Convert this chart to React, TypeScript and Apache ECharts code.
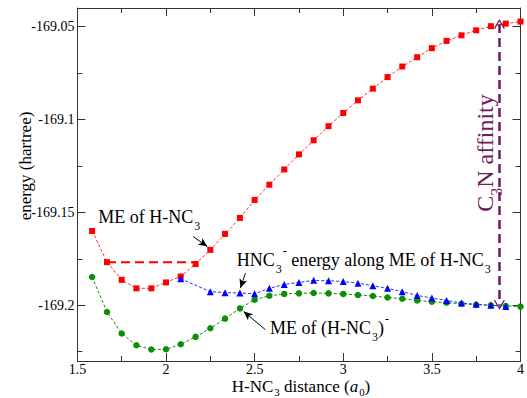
import React, { useEffect, useRef } from 'react';
import * as echarts from 'echarts';

// H-NC3 distance (bohr)
const distances = [
  1.583, 1.667, 1.75, 1.833, 1.917, 2.0, 2.083, 2.167, 2.25, 2.333,
  2.417, 2.5, 2.583, 2.667, 2.75, 2.833, 2.917, 3.0, 3.083, 3.167,
  3.25, 3.333, 3.417, 3.5, 3.583, 3.667, 3.75, 3.833, 3.917, 4.0,
];
// ME of H-NC3 (neutral), red squares
const neutralME = [
  -169.160, -169.1768, -169.1863, -169.1909, -169.1909, -169.1877, -169.1845, -169.1778, -169.1702, -169.1616,
  -169.1530, -169.1433, -169.1351, -169.1269, -169.1188, -169.1112, -169.1036, -169.0965, -169.0897, -169.0834,
  -169.0772, -169.0715, -169.0665, -169.0616, -169.0577, -169.0547, -169.0520, -169.0498, -169.0484, -169.0473,
];
// ME of (H-NC3)^- (anion), green circles
const anionME = [
  -169.1848, -169.2036, -169.2152, -169.2215, -169.2238, -169.2237, -169.2210, -169.2170, -169.2124, -169.2072,
  -169.2017, -169.1970, -169.1949, -169.1939, -169.1936, -169.1934, -169.1936, -169.1939, -169.1945, -169.1950,
  -169.1958, -169.1965, -169.1974, -169.1981, -169.1986, -169.1992, -169.1997, -169.2000, -169.2004, -169.2007,
];
// HNC3^- energy along ME of H-NC3, blue triangles (null = no point)
const anionAlongNeutral = [
  null, null, null, null, null, null, -169.1857, null, -169.1927, -169.1932,
  -169.1934, -169.1938, -169.1909, -169.1888, -169.1877, -169.1866, -169.1868, -169.1872, -169.1881, -169.1895,
  -169.1909, -169.1927, -169.1947, -169.1961, -169.1974, -169.1988, -169.1995, -169.2000, -169.2006, null,
];
// thick red dashed plateau
const plateauX = [1.667, 2.167];
const plateauY = -169.1768;
// pointer arrows [from, to]
const pointerArrows = [
  [[2.153, -169.1630], [2.233, -169.1684]],
  [[2.448, -169.1827], [2.420, -169.1907]],
  [[2.560, -169.2131], [2.438, -169.2033]],
];
// C3N affinity double arrow
const affinityArrow = [[3.881, -169.0486], [3.881, -169.1997]];

const xTicks = { min: 1.5, max: 4, interval: 0.5 };
const yRange = { min: -169.23, max: -169.04 };
const yMajor = [-169.2, -169.15, -169.1, -169.05];
const yMinor = [-169.225, -169.175, -169.125, -169.075];

const SERIF = '"Liberation Serif", "Times New Roman", serif';
const FRAME = '#333';
const PURPLE = '#6e1d5c';

const pairs = (ys: (number | null)[]) =>
  distances.map((x, i) => [x, ys[i]]).filter((p) => p[1] !== null);

const rich = (fs: number, lh: number, sfs: number) => ({
  n: { fontSize: fs, fontFamily: SERIF, lineHeight: lh, fill: '#000', verticalAlign: 'middle' },
  i: { fontSize: fs, fontFamily: SERIF, fontStyle: 'italic', lineHeight: lh, fill: '#000', verticalAlign: 'middle' },
  sub: { fontSize: sfs, fontFamily: SERIF, lineHeight: sfs, fill: '#000', verticalAlign: 'bottom', padding: [0, 0, 0, 1] },
  sup: { fontSize: sfs, fontFamily: SERIF, lineHeight: sfs, fill: '#000', verticalAlign: 'top', padding: [0, 0, 0, 1] },
});

function richText(x: number, y: number, text: string, fs = 18, lh = 30, sfs = 12, align = 'left') {
  return {
    type: 'text',
    x,
    y,
    silent: true,
    style: {
      text,
      rich: rich(fs, lh, sfs),
      fontFamily: SERIF,
      fontSize: fs,
      fill: '#000',
      align,
      textAlign: align,
      verticalAlign: 'top',
      textVerticalAlign: 'top',
    },
  };
}

const yAxisBase = (position: string) => ({
  type: 'value',
  position,
  min: yRange.min,
  max: yRange.max,
  splitLine: { show: false },
});

export default function App() {
  const ref = useRef<HTMLDivElement>(null);
  useEffect(() => {
    const chart = echarts.init(ref.current!, null, { renderer: 'svg' });
    const xAxisBase = (position: string, labels: boolean) => ({
      type: 'value',
      position,
      min: xTicks.min,
      max: xTicks.max,
      interval: xTicks.interval,
      axisLine: { show: true, lineStyle: { color: FRAME, width: 1 } },
      axisTick: { show: true, inside: true, length: 8, lineStyle: { color: FRAME } },
      minorTick: { show: true, splitNumber: 2, length: 5, lineStyle: { color: FRAME } },
      axisLabel: {
        show: labels,
        fontFamily: SERIF,
        fontSize: 14,
        color: '#000',
        margin: 1.5,
      },
      splitLine: { show: false },
      minorSplitLine: { show: false },
    });
    const chevron = 'path://M0,0 L6,10 L4.8,10.8 L0,2.6 L-4.8,10.8 L-6,10 Z';
    const option: any = {
      animation: false,
      backgroundColor: '#fff',
      textStyle: { fontFamily: SERIF },
      grid: { left: 77.4, right: 3.5, top: 8, bottom: 37 },
      xAxis: [xAxisBase('bottom', true), xAxisBase('top', false)],
      yAxis: [
        {
          ...yAxisBase('left'),
          axisLine: { show: true, lineStyle: { color: FRAME, width: 1 } },
          axisTick: { show: true, inside: true, length: 8, customValues: yMajor, lineStyle: { color: FRAME } },
          axisLabel: {
            show: true,
            customValues: yMajor,
            fontFamily: SERIF,
            fontSize: 14,
            color: '#000',
            margin: 3,
            formatter: (v: number) => String(v),
          },
        },
        {
          ...yAxisBase('left'),
          axisLine: { show: false },
          axisTick: { show: true, inside: true, length: 5, customValues: yMinor, lineStyle: { color: FRAME } },
          axisLabel: { show: false },
        },
        {
          ...yAxisBase('right'),
          axisLine: { show: true, lineStyle: { color: FRAME, width: 1 } },
          axisTick: { show: true, inside: true, length: 8, customValues: yMajor, lineStyle: { color: FRAME } },
          axisLabel: { show: false },
        },
        {
          ...yAxisBase('right'),
          axisLine: { show: false },
          axisTick: { show: true, inside: true, length: 5, customValues: yMinor, lineStyle: { color: FRAME } },
          axisLabel: { show: false },
        },
      ],
      series: [
        {
          type: 'line',
          name: 'plateau',
          data: plateauX.map((x) => [x, plateauY]),
          symbol: 'none',
          lineStyle: { color: '#ff0000', width: 2, type: [9, 5] },
          silent: true,
          z: 2,
        },
        {
          type: 'line',
          name: 'ME of H-NC3',
          data: pairs(neutralME),
          symbol: 'rect',
          symbolSize: 6,
          itemStyle: { color: '#ff0000' },
          lineStyle: { color: '#ff3030', width: 1, type: [3, 2] },
          z: 3,
        },
        {
          type: 'line',
          name: 'ME of (H-NC3)-',
          data: pairs(anionME),
          symbol: 'circle',
          symbolSize: 6.5,
          itemStyle: { color: '#0a8f0a' },
          lineStyle: { color: '#0a8f0a', width: 1, type: [3, 2] },
          z: 3,
        },
        {
          type: 'line',
          name: 'HNC3- along ME of H-NC3',
          data: pairs(anionAlongNeutral),
          symbol: 'triangle',
          symbolSize: 7,
          itemStyle: { color: '#0000ff' },
          lineStyle: { color: '#2030ff', width: 1, type: [3, 2] },
          z: 4,
        },
        {
          type: 'line',
          name: 'arrows',
          data: [],
          silent: true,
          markLine: {
            silent: true,
            animation: false,
            symbol: ['none', 'arrow'],
            symbolSize: [6, 9],
            label: { show: false },
            lineStyle: { color: '#000', width: 1, type: 'solid' },
            emphasis: { disabled: true },
            data: pointerArrows.map(([a, b]) => [{ coord: a }, { coord: b }]),
          },
        },
        {
          type: 'line',
          name: 'affinity',
          data: [],
          silent: true,
          z: 5,
          markLine: {
            silent: true,
            animation: false,
            symbol: [chevron, chevron],
            symbolSize: [11, 10],
            label: { show: false },
            lineStyle: { color: PURPLE, width: 2.5, type: [9, 5] },
            itemStyle: { color: PURPLE },
            emphasis: { disabled: true },
            data: [[{ coord: affinityArrow[0] }, { coord: affinityArrow[1] }]],
          },
        },
      ],
      graphic: [
        richText(98.3, 202.2, '{n|ME of H-NC}{sub|3}'),
        richText(236.7, 244.6, '{n|HNC}{sub|3}{sup|-}{n| energy along ME of H-NC}{sub|3}'),
        richText(270, 313.2, '{n|ME of (H-NC}{sub|3}{n|)}{sup|-}'),
        richText(301, 375.3, '{n|H-NC}{sub|3}{n| distance (}{i|a}{sub|0}{n|)}', 17, 22, 11, 'center'),
        {
          type: 'text',
          x: 25,
          y: 166,
          rotation: Math.PI / 2,
          silent: true,
          style: {
            text: 'energy (hartree)',
            fontFamily: SERIF,
            fontSize: 17,
            fill: '#000',
            align: 'center',
            textAlign: 'center',
            verticalAlign: 'middle',
            textVerticalAlign: 'middle',
          },
        },
        {
          type: 'text',
          x: 485,
          y: 153,
          rotation: Math.PI / 2,
          silent: true,
          style: {
            text: '{n|C}{sub|3}{n|N affinity}',
            rich: {
              n: { fontSize: 24, fontFamily: SERIF, lineHeight: 38, fill: PURPLE, verticalAlign: 'middle' },
              sub: { fontSize: 16, fontFamily: SERIF, lineHeight: 16, fill: PURPLE, verticalAlign: 'bottom' },
            },
            fontFamily: SERIF,
            fontSize: 24,
            fill: PURPLE,
            align: 'center',
            textAlign: 'center',
            verticalAlign: 'middle',
            textVerticalAlign: 'middle',
          },
        },
      ],
    };
    chart.setOption(option);
    return () => chart.dispose();
  }, []);
  return (
    <div
      ref={ref}
      style={{ position: 'absolute', left: 0, top: 0, width: 527, height: 398, background: '#fff' }}
    />
  );
}
